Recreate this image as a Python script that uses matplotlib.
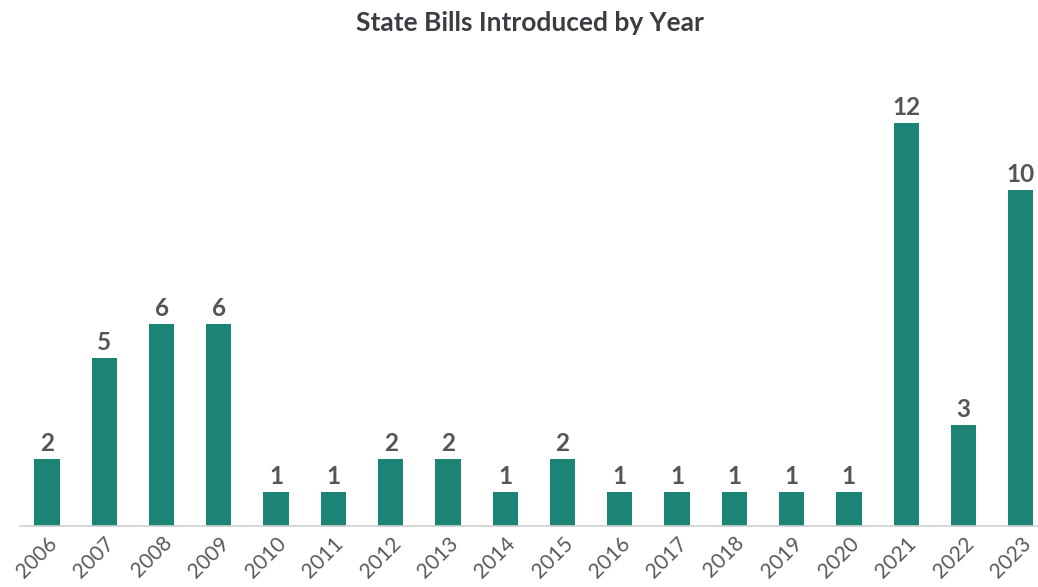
import matplotlib
matplotlib.use("Agg")
import matplotlib.pyplot as plt

years = ["2006", "2007", "2008", "2009", "2010", "2011", "2012", "2013", "2014",
         "2015", "2016", "2017", "2018", "2019", "2020", "2021", "2022", "2023"]
bills = [2, 5, 6, 6, 1, 1, 2, 2, 1, 2, 1, 1, 1, 1, 1, 12, 3, 10]

plt.rcParams['font.family'] = ['Lato', 'DejaVu Sans']

fig = plt.figure(figsize=(10.38, 5.87), dpi=100)
ax = fig.add_axes([20/1038, 61/587, 1018/1038, 447/587])

x = list(range(len(years)))
bars = ax.bar(x, bills, width=0.44, color="#1b8474")
for xi, v in zip(x, bills):
    ax.text(xi, v + 0.12, str(v), ha='center', va='bottom', fontsize=17.5,
            fontweight='bold', color='#555555')

ax.set_xlim(-0.47, 17.3)
ax.set_ylim(0, 13.3)
ax.set_yticks([])
ax.set_xticks(x)
ax.set_xticklabels(years, rotation=45, ha='right', va='top', rotation_mode='anchor',
                   fontsize=15, color='#595959')
ax.tick_params(axis='x', length=0, pad=5)
for s in ['top', 'right', 'left']:
    ax.spines[s].set_visible(False)
ax.spines['bottom'].set_color('#d0d0d0')
ax.spines['bottom'].set_linewidth(1.2)

fig.text(530/1038, 1 - 23/587, "State Bills Introduced by Year", ha='center', va='center',
         fontsize=19, fontweight='bold', color='#3a3d41')

fig.savefig("out.png", dpi=100)
